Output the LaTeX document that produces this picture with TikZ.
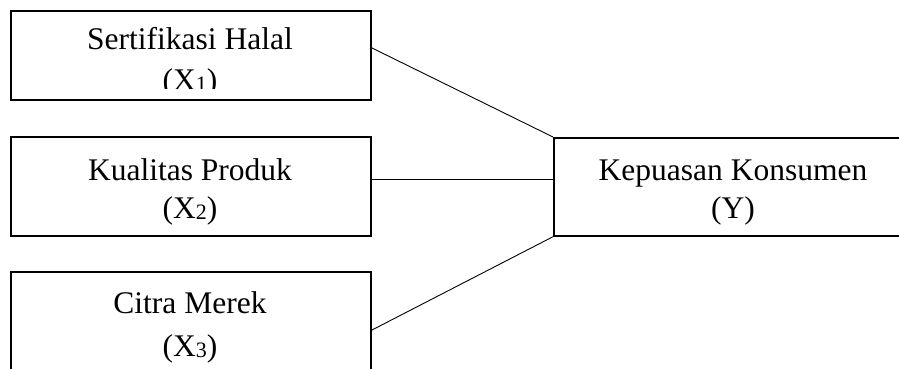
\documentclass[tikz,border=0pt]{standalone}
\usepackage{fontspec}
\setmainfont{Liberation Serif}
\newcommand{\mysub}[1]{\raisebox{-1.5pt}{\fontsize{22}{22}\selectfont #1}}
\begin{document}
\begin{tikzpicture}[x=1pt,y=-1pt,
  box/.style={draw, line width=1.7pt, minimum width=360pt, inner sep=0pt, anchor=north west},
  lbl/.style={font=\fontsize{31.5}{38}\selectfont, inner sep=0pt, anchor=base},
  link/.style={line width=0.9pt}]
\useasboundingbox (0,0) rectangle (899,369);
\clip (0,0) rectangle (899,369);
% boxes
\node[box, minimum height=89pt] (x1) at (10,10) {};
\node[box, minimum height=99pt] (x2) at (10,136) {};
\node[box, minimum height=129pt] (x3) at (10,271) {};
\node[box, minimum height=98pt] (y) at (553,137) {};
% labels
\node[lbl] (x1a) at (190,49) {Sertifikasi Halal};
\begin{scope}
  \clip (10,10) rectangle (370,88);
  \node[lbl] (x1b) at (190,90) {(X\mysub{1})};
\end{scope}
\node[lbl] (x2a) at (190,180) {Kualitas Produk};
\node[lbl] (x2b) at (190,218) {(X\mysub{2})};
\node[lbl] (x3a) at (190,313) {Citra Merek};
\node[lbl] (x3b) at (190,356) {(X\mysub{3})};
\node[lbl] (ya) at (733,180) {Kepuasan Konsumen};
\node[lbl] (yb) at (733,218) {(Y)};
% connectors
\draw[link] ([yshift=7.5pt]x1.east) -- (y.north west);
\draw[link] ([yshift=6.5pt]x2.east) -- ([yshift=6.5pt]x2.east -| y.west);
\draw[link] ([yshift=6.2pt]x3.east) -- (y.south west);
\end{tikzpicture}
\end{document}
